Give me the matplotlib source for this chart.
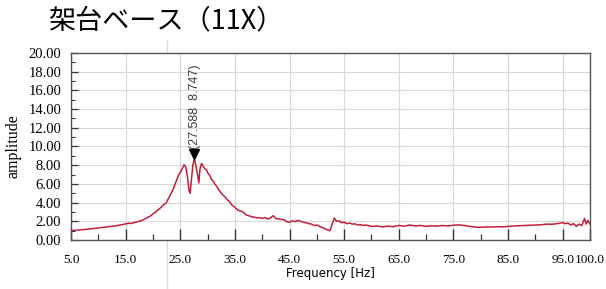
import matplotlib
matplotlib.use("Agg")
import matplotlib.pyplot as plt
from matplotlib.lines import Line2D
from matplotlib.ticker import MultipleLocator, FixedLocator

# =========================================================
# Data
# =========================================================

freq = [
    5.0, 6.0, 7.0, 8.0, 9.0, 10.0, 11.0, 12.0, 13.0, 14.0,
    15.0, 15.5, 16.0, 16.5, 17.0, 17.5, 18.0, 18.5, 19.0, 19.5,
    20.0, 20.5, 21.0, 21.5, 22.0, 22.4, 22.8, 23.2, 23.6, 24.0,
    24.4, 24.8, 25.1, 25.4, 25.7, 26.0, 26.3, 26.6, 26.8, 27.0,
    27.3, 27.588, 27.8, 28.1, 28.4, 28.6, 28.9, 29.2, 29.5, 29.8,
    30.1, 30.4, 30.7, 31.0, 31.3, 31.7, 32.0, 32.4, 32.8, 33.2,
    33.6, 34.0, 34.5, 35.0, 35.5, 36.0, 36.5, 37.0, 37.5, 38.0,
    38.5, 39.0, 39.5, 40.0, 40.5, 41.0, 41.5, 42.0, 42.5, 43.0,
    43.5, 44.0, 44.5, 45.0, 45.5, 46.0, 46.5, 47.0, 47.5, 48.0,
    48.5, 49.0, 49.5, 50.0, 50.5, 51.0, 51.5, 52.0, 52.4, 52.8,
    53.2, 53.6, 54.0, 54.5, 55.0, 55.5, 56.0, 56.5, 57.0, 57.5,
    58.0, 58.5, 59.0, 60.0, 61.0, 62.0, 63.0, 64.0, 65.0, 66.0,
    67.0, 68.0, 69.0, 70.0, 71.0, 72.0, 73.0, 74.0, 75.0, 76.0,
    77.0, 78.0, 79.0, 80.0, 81.0, 82.0, 83.0, 84.0, 85.0, 86.0,
    87.0, 88.0, 89.0, 90.0, 91.0, 92.0, 93.0, 94.0, 95.0, 95.5,
    96.0, 96.5, 97.0, 97.5, 98.0, 98.5, 99.0, 99.3, 99.6, 100.0,
]

amplitude = [
    1.00, 1.05, 1.10, 1.15, 1.22, 1.28, 1.35, 1.42, 1.50, 1.60,
    1.72, 1.80, 1.76, 1.85, 1.92, 2.00, 2.10, 2.25, 2.40, 2.55,
    2.80, 3.00, 3.25, 3.50, 3.80, 3.95, 4.40, 4.85, 5.30, 5.90,
    6.50, 7.10, 7.30, 7.70, 8.05, 7.80, 6.80, 5.30, 5.00, 6.20,
    8.00, 8.747, 8.10, 7.20, 6.10, 7.60, 8.20, 7.90, 7.60, 7.50,
    7.10, 6.90, 6.50, 6.30, 6.00, 5.70, 5.40, 5.10, 4.80, 4.60,
    4.30, 4.10, 3.70, 3.50, 3.20, 3.10, 3.00, 2.70, 2.60, 2.50,
    2.45, 2.35, 2.40, 2.30, 2.40, 2.25, 2.35, 2.60, 2.30, 2.25,
    2.20, 2.15, 1.95, 1.90, 2.05, 1.95, 2.10, 2.00, 1.90, 1.85,
    1.75, 1.70, 1.55, 1.60, 1.45, 1.35, 1.20, 1.05, 1.00, 1.70,
    2.35, 2.00, 2.05, 1.85, 1.90, 1.75, 1.80, 1.70, 1.72, 1.60,
    1.65, 1.55, 1.60, 1.45, 1.50, 1.40, 1.48, 1.42, 1.55, 1.48,
    1.60, 1.50, 1.55, 1.45, 1.52, 1.48, 1.55, 1.50, 1.58, 1.62,
    1.55, 1.45, 1.38, 1.36, 1.40, 1.38, 1.42, 1.40, 1.45, 1.50,
    1.52, 1.55, 1.58, 1.60, 1.62, 1.70, 1.68, 1.75, 1.85, 1.75,
    1.80, 1.60, 1.75, 1.45, 1.70, 1.55, 2.30, 1.70, 2.10, 1.70,
]

peak_freq = 27.588
peak_amp = 8.747

x_ticks = [5.0, 15.0, 25.0, 35.0, 45.0, 55.0, 65.0, 75.0, 85.0, 95.0, 100.0]
x_labels = ["5.0", "15.0", "25.0", "35.0", "45.0", "55.0", "65.0", "75.0", "85.0", "95.0", "100.0"]
x_minor = [10, 20, 30, 40, 50, 60, 70, 80, 90]

title = "架台ベース（11X）"

# =========================================================
# Figure
# =========================================================

fig = plt.figure(figsize=(6.06, 2.89), dpi=100)
ax = fig.add_axes([0.1172, 0.1696, 0.8564, 0.647])

ax.plot(freq, amplitude, color="#c21f3a", linewidth=1.1)

# peak marker + label
ax.plot([peak_freq], [peak_amp + 0.4], marker="v", color="black", markersize=6.5)
ax.text(peak_freq + 0.15, peak_amp + 1.0, "(%.3f  %.3f)" % (peak_freq, peak_amp),
        rotation=90, ha="center", va="bottom", fontsize=9,
        family="Liberation Sans", color="#3a3a3a")

ax.set_xlim(5, 100)
ax.set_ylim(0, 20)

ax.xaxis.set_major_locator(FixedLocator(x_ticks))
ax.set_xticklabels(x_labels)
ax.xaxis.set_minor_locator(FixedLocator(x_minor))
ax.yaxis.set_major_locator(MultipleLocator(2))
ax.yaxis.set_minor_locator(MultipleLocator(1))
ax.yaxis.set_major_formatter(matplotlib.ticker.FormatStrFormatter("%.2f"))

ax.grid(True, which="major", color="#d8d8d8", linewidth=0.8)

ax.tick_params(axis="x", which="major", direction="in", length=8, width=1.0,
               pad=10, labelsize=9.5, color="#333333")
ax.tick_params(axis="x", which="minor", direction="in", length=4, width=0.9, color="#333333")
ax.tick_params(axis="y", which="major", direction="in", length=5, width=0.9,
               pad=7, labelsize=10.5, color="#333333")
ax.tick_params(axis="y", which="minor", direction="in", length=3, width=0.8, color="#333333")
for lbl in ax.get_xticklabels() + ax.get_yticklabels():
    lbl.set_family("Liberation Serif")

for s in ax.spines.values():
    s.set_color("#555555")
    s.set_linewidth(1.0)

ax.set_xlabel("Frequency [Hz]", fontsize=8.5, family="DejaVu Sans", labelpad=1)
ax.set_ylabel("amplitude", fontsize=11.5, family="Liberation Serif", labelpad=5)

fig.text(0.274, 0.928, title, ha="center", va="center", fontsize=19.5,
         family=["Noto Sans CJK JP", "DejaVu Sans"])

# faint pink scan line
fig.add_artist(Line2D([167 / 606, 167 / 606], [0.0, 0.86], color="#f2ccd2",
                      linewidth=0.9, transform=fig.transFigure, zorder=0))

fig.savefig("out.png", dpi=100)
